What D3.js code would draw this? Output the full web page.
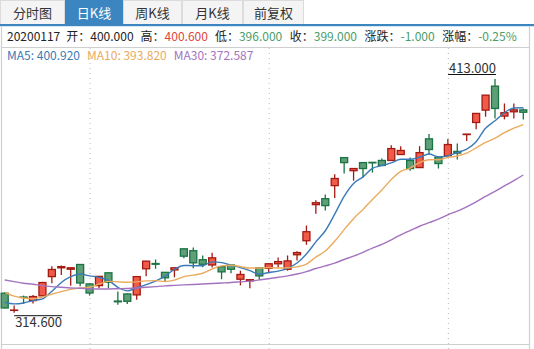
<!DOCTYPE html>
<html><head><meta charset="utf-8">
<script src="https://cdn.jsdelivr.net/npm/d3@7"></script>
<style>
body{margin:0;background:#fff;}
svg{display:block;font-family:"Microsoft YaHei","Noto Sans CJK SC","Noto Sans",sans-serif;}
</style></head><body>
<svg id="chart" width="534" height="349"></svg>
<script>
// Daily K-line data, one entry per trading day
const dates = ["20191031",
  "20191101","20191104","20191105","20191106","20191107","20191108","20191111","20191112","20191113","20191114",
  "20191115","20191118","20191119","20191120","20191121","20191122","20191125","20191126","20191127","20191128","20191129",
  "20191202","20191203","20191204","20191205","20191206","20191209","20191210","20191211","20191212","20191213",
  "20191216","20191217","20191218","20191219","20191220","20191223","20191224","20191225","20191226","20191227",
  "20191230","20191231",
  "20200102","20200103","20200106","20200107","20200108","20200109","20200110","20200113","20200114","20200115",
  "20200116","20200117"];
const opens  = [322.8,315.6,321.2,319.7,321.7,329.8,333.5,332.9,334.9,326.7,326.0,331.4,319.5,322.5,322.1,333.1,335.3,331.6,332.6,341.5,
                340.7,336.9,334.7,334.0,334.7,328.7,328.0,333.5,333.3,335.2,332.9,339.0,344.9,360.1,362.6,368.1,379.9,374.4,377.8,377.9,
                378.7,378.7,381.2,378.7,375.7,387.8,380.1,380.6,382.5,389.6,394.7,399.9,410.0,397.4,399.2,400.0];
const highs  = [323.3,317.6,321.8,322.1,327.6,334.2,334.5,333.6,335.0,327.0,330.0,331.5,323.5,322.7,330.0,336.5,337.0,331.7,333.6,341.6,
                342.1,338.7,339.8,334.1,334.8,332.3,328.6,333.6,335.3,337.8,338.7,340.5,351.3,361.9,364.4,372.9,380.0,375.4,377.9,377.9,
                379.5,385.1,384.7,379.9,384.7,389.8,380.2,387.7,385.8,389.8,398.6,406.3,413.0,402.7,402.7,400.6];
const lows   = [316.4,314.6,318.3,318.5,321.5,327.0,330.5,326.0,325.7,321.8,324.9,324.9,317.9,318.3,320.1,329.9,333.1,327.8,329.5,337.5,
                333.3,333.7,333.6,328.7,331.2,326.1,324.9,328.5,331.4,333.6,332.3,336.6,343.2,356.3,357.6,362.9,373.2,370.2,371.5,373.6,
                376.5,378.6,381.1,374.4,375.6,381.3,375.3,380.5,379.1,386.9,391.8,397.1,396.4,396.0,396.4,396.0];
const closes = [316.6,315.7,321.0,321.4,327.3,332.8,334.0,333.5,327.1,322.9,329.9,327.4,319.2,319.4,329.8,336.3,335.0,329.3,333.5,338.4,
                335.6,335.0,337.7,331.8,332.9,330.7,328.5,330.1,335.2,336.1,336.4,339.9,348.7,360.9,359.7,371.1,377.8,375.3,375.3,377.7,
                376.6,383.7,382.9,375.3,382.0,383.3,377.4,385.4,381.8,389.8,398.5,406.2,400.6,398.8,400.0,399.0];

// Moving averages
const ma5  = [319.0,318.3,318.7,319.7,320.4,323.6,327.3,329.8,330.9,330.1,329.5,328.2,325.3,323.8,325.1,326.4,327.9,330.0,332.8,334.5,
              334.4,334.4,336.0,335.7,334.6,333.6,332.3,330.8,331.5,332.1,333.3,335.5,339.3,344.4,349.1,356.1,363.6,369.0,371.8,375.4,
              376.5,377.7,379.2,379.2,380.1,381.4,380.2,380.7,382.0,383.5,386.6,392.3,395.4,398.8,400.8,400.92];
const ma10 = [323.2,321.6,320.8,320.5,321.2,322.4,323.5,324.4,325.0,325.3,326.6,327.8,327.6,327.4,327.6,328.0,328.1,327.7,328.3,329.8,
              330.4,331.2,333.0,334.3,334.6,334.0,333.4,333.4,333.6,333.4,333.5,333.9,335.1,338.0,340.6,344.7,349.6,354.2,358.1,362.3,
              366.3,370.7,374.1,375.5,377.8,379.0,379.0,380.0,380.6,381.8,384.0,386.3,388.1,390.4,392.3,393.82];
const ma30 = [328.4,327.7,327.0,326.6,326.0,325.6,325.3,325.0,324.9,324.7,324.6,324.6,324.7,324.8,325.0,325.3,325.6,325.9,326.1,326.3,
              326.5,326.7,326.9,327.1,327.3,327.6,327.9,328.4,328.9,329.5,330.1,330.9,331.9,333.2,334.3,335.5,337.0,338.4,340.0,341.8,
              343.4,345.3,347.4,349.2,351.0,352.5,354.0,355.8,357.4,359.2,361.3,363.6,365.7,368.0,370.2,372.587];

const tabs = ["分时图", "日K线", "周K线", "月K线", "前复权"];
const activeTab = "日K线";
const gridDates = ["20191113", "20191210", "20200107"];

const RED = "#ef5b48", RED_D = "#a31a12", GREEN = "#5f9f78", GREEN_D = "#1b7343";
const UP_TXT = "#e0453a", DOWN_TXT = "#4a9d69";
const MA_COLORS = {MA5: "#3a7ab7", MA10: "#ebab5c", MA30: "#a473c0"};

const svg = d3.select("#chart");
const W = 534, H = 349;

// ---- tab strip ----
const tabEdges = [0, 65, 123, 182, 243, 304];
const tabG = svg.append("g");
tabs.forEach((t, i) => {
  const x0 = tabEdges[i], x1 = tabEdges[i + 1];
  const active = t === activeTab;
  tabG.append("rect").attr("x", x0 + 0.5).attr("y", 0.5).attr("width", x1 - x0 - 1).attr("height", 25)
    .attr("fill", active ? "#3b86c1" : "#f4f4f4").attr("stroke", active ? "#3b86c1" : "#dcdcdc");
  tabG.append("text").attr("x", (x0 + x1) / 2).attr("y", 17.5).attr("text-anchor", "middle")
    .attr("font-size", 13).attr("fill", active ? "#fff" : "#333").text(t);
});
svg.append("rect").attr("x", 0).attr("y", 24).attr("width", W).attr("height", 2.2).attr("fill", "#3b86c1");

// ---- frame ----
const frame = svg.append("g").attr("stroke", "#cfcfcf").attr("stroke-width", 1.2).attr("fill", "none");
frame.append("line").attr("x1", 1.5).attr("x2", 1.5).attr("y1", 26).attr("y2", H);
frame.append("line").attr("x1", 529.5).attr("x2", 529.5).attr("y1", 26).attr("y2", H);
frame.append("line").attr("x1", 1.5).attr("x2", 529.5).attr("y1", 47.5).attr("y2", 47.5);
frame.append("line").attr("x1", 1.5).attr("x2", 529.5).attr("y1", 344.5).attr("y2", 344.5);

// ---- scales ----
const x = d3.scalePoint().domain(dates).range([0, 528]).padding(0.5);
const y = d3.scaleLinear().domain([d3.min(lows), d3.max(highs)]).range([312.7, 79]);

// dotted vertical gridlines
const grid = svg.append("g").attr("transform", "translate(0,48)")
  .call(d3.axisBottom(x).tickValues(gridDates).tickSize(H - 48).tickFormat(""));
grid.select(".domain").remove();
grid.selectAll(".tick line").attr("stroke", "#b8b8b8").attr("stroke-dasharray", "1,4");

// ---- info line for the last day ----
const n = dates.length - 1;
const prev = closes[n - 1];
const colorOf = v => v > prev ? UP_TXT : (v < prev ? DOWN_TXT : "#222");
const chg = closes[n] - prev;
const info = [
  {t: dates[n], c: "#222", gap: 6},
  {t: "开：", c: "#222", gap: 0}, {t: opens[n].toFixed(3), c: colorOf(opens[n]), gap: 7},
  {t: "高：", c: "#222", gap: 0}, {t: highs[n].toFixed(3), c: colorOf(highs[n]), gap: 7},
  {t: "低：", c: "#222", gap: 0}, {t: lows[n].toFixed(3), c: colorOf(lows[n]), gap: 7.5},
  {t: "收：", c: "#222", gap: 0}, {t: closes[n].toFixed(3), c: colorOf(closes[n]), gap: 7.5},
  {t: "涨跌：", c: "#222", gap: 0}, {t: chg.toFixed(3), c: chg > 0 ? UP_TXT : DOWN_TXT, gap: 7.5},
  {t: "涨幅：", c: "#222", gap: 0}, {t: (chg / prev * 100).toFixed(2) + "%", c: chg > 0 ? UP_TXT : DOWN_TXT, gap: 7}
];
let cx = 7;
info.forEach(s => {
  const el = svg.append("text").attr("x", cx).attr("y", 41).attr("font-size", 12).attr("fill", s.c).text(s.t);
  cx += el.node().getComputedTextLength() + s.gap;
});

// ---- MA legend ----
const maSeries = [{k: "MA5", v: ma5}, {k: "MA10", v: ma10}, {k: "MA30", v: ma30}];
cx = 7;
maSeries.forEach(m => {
  const el = svg.append("text").attr("x", cx).attr("y", 60).attr("font-size", 12)
    .attr("fill", MA_COLORS[m.k]).text(`${m.k}: ${m.v[n].toFixed(3)}`);
  cx += el.node().getComputedTextLength() + 7;
});

// ---- candles ----
const candles = dates.map((d, i) => ({date: d, o: opens[i], h: highs[i], l: lows[i], c: closes[i]}));
const bw = 7;
const cg = svg.append("g").selectAll("g").data(candles).join("g");
cg.append("line")
  .attr("x1", d => x(d.date)).attr("x2", d => x(d.date))
  .attr("y1", d => y(d.h)).attr("y2", d => y(d.l))
  .attr("stroke", d => d.c >= d.o ? RED_D : GREEN_D).attr("stroke-width", 1.3);
cg.append("rect")
  .attr("x", d => x(d.date) - bw / 2)
  .attr("y", d => y(Math.max(d.o, d.c)))
  .attr("width", bw)
  .attr("height", d => Math.max(0.3, Math.abs(y(d.o) - y(d.c))))
  .attr("fill", d => d.c >= d.o ? RED : GREEN)
  .attr("stroke", d => d.c >= d.o ? RED_D : GREEN_D).attr("stroke-width", 1.3);

// ---- moving average lines ----
maSeries.forEach(m => {
  svg.append("path").datum(m.v)
    .attr("fill", "none").attr("stroke", MA_COLORS[m.k]).attr("stroke-width", 1.4)
    .attr("d", d3.line().x((v, i) => x(dates[i])).y(v => y(v)).curve(d3.curveMonotoneX));
});

// ---- highest / lowest markers ----
const iMax = d3.maxIndex(highs), iMin = d3.minIndex(lows);
const mk = svg.append("g").attr("font-size", 13).attr("fill", "#333");
const hiTxt = mk.append("text").attr("x", x(dates[iMax]) + 1).attr("y", y(highs[iMax]) - 6)
  .attr("text-anchor", "end").text(highs[iMax].toFixed(3));
const hw = hiTxt.node().getComputedTextLength();
mk.append("line").attr("x1", x(dates[iMax]) - hw).attr("x2", x(dates[iMax]) + 1)
  .attr("y1", y(highs[iMax]) - 4.5).attr("y2", y(highs[iMax]) - 4.5).attr("stroke", "#111");
const loTxt = mk.append("text").attr("x", x(dates[iMin]) + 1).attr("y", y(lows[iMin]) + 14)
  .text(lows[iMin].toFixed(3));
const lw = loTxt.node().getComputedTextLength();
mk.append("line").attr("x1", x(dates[iMin])).attr("x2", x(dates[iMin]) + lw + 1)
  .attr("y1", y(lows[iMin]) + 3).attr("y2", y(lows[iMin]) + 3).attr("stroke", "#111");
</script>
</body></html>
